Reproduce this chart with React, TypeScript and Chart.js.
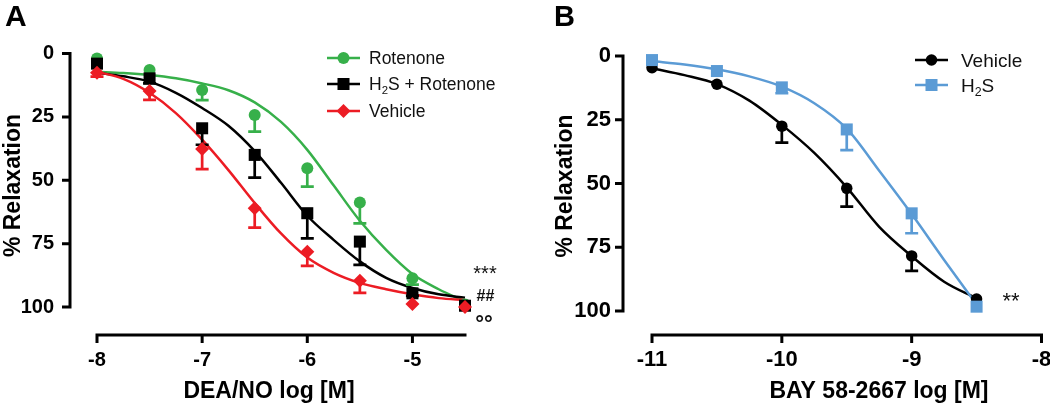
import React, { useEffect, useRef } from 'react';
import { Chart, registerables } from 'chart.js';

Chart.register(...registerables);

const FAMILY = "'Liberation Sans', Arial, Helvetica, sans-serif";

// ---------------- Panel A data (DEA/NO) ----------------
const doseA = [-8, -7.5, -7, -6.5, -6, -5.5, -5, -4.5];
const rotenoneMean = [2, 6.5, 14.4, 24.3, 45.3, 58.8, 88.7, 99];
const rotenoneSem = [0, 0, 4, 6.5, 7.2, 8.2, 2.5, 0];
const h2sRotenoneMean = [4, 9.8, 29.5, 40, 63, 74.2, 94.6, 99.5];
const h2sRotenoneSem = [0, 2, 6.5, 9, 9.9, 9.2, 1, 0];
const vehicleAMean = [7.6, 14.8, 37.7, 61, 78.2, 89.6, 98.8, 100];
const vehicleASem = [1.5, 3.5, 7.9, 7.7, 5.6, 4.8, 0, 0];

const fitDoseA = [-8, -7.75, -7.5, -7.25, -7, -6.75, -6.5, -6.25, -6, -5.75, -5.5, -5.25, -5, -4.75, -4.5];
const rotenoneFit = [7.2, 7.7, 8.5, 9.8, 11.8, 14.5, 19.3, 27, 38, 52, 66, 77.5, 87, 93, 97.8];
const h2sRotenoneFit = [7.6, 9, 11.1, 15.5, 21.5, 28.5, 38.5, 51, 64, 73.5, 82, 88.5, 92.5, 95, 96.3];
const vehicleAFit = [7.2, 10, 15.5, 23.5, 34, 46, 59, 71, 80.5, 86.5, 90.5, 93, 95, 96.5, 97.3];

const xTicksA = [-8, -7, -6, -5];
const legendA = ['Rotenone', 'H₂S + Rotenone', 'Vehicle'];
const sigA = ['***', '##', '°°'];
const xTitleA = 'DEA/NO log [M]';

// ---------------- Panel B data (BAY 58-2667) ----------------
const doseB = [-11, -10.5, -10, -9.5, -9, -8.5];
const vehicleBMean = [4.6, 11.1, 27.5, 51.9, 78.4, 95.3];
const vehicleBSem = [0, 0, 6.5, 7.2, 5.9, 0];
const h2sMean = [1.6, 5.9, 12.3, 28.8, 61.7, 98.3];
const h2sSem = [0, 0, 2.3, 8.1, 7.8, 0];

const fitDoseB = [-11, -10.75, -10.5, -10.25, -10, -9.75, -9.5, -9.25, -9, -8.75, -8.5];
const vehicleBFit = [4.8, 7.5, 11, 17.5, 27, 38, 51.5, 67, 78.5, 88.5, 95];
const h2sFit = [2, 3.3, 5.2, 8, 12, 18.5, 28.5, 45, 62, 80, 97.5];

const xTicksB = [-11, -10, -9, -8];
const legendB = ['Vehicle', 'H₂S'];
const sigB = ['**'];
const xTitleB = 'BAY 58-2667 log [M]';

// ---------------- shared ----------------
const yTicks = [0, 25, 50, 75, 100];
const yTitle = '% Relaxation';

const GREEN = '#37b04a';
const BLACK = '#000000';
const RED = '#ec1c24';
const BLUE = '#5b9bd5';

type Series = {
  label: string; color: string; style: 'circle' | 'rect' | 'rectRot'; radius: number; z: number;
  dose: number[]; mean: number[]; sem: number[]; fitDose: number[]; fit: number[];
};

type Sig = { text: string; x: number; y: number; font: string };

type PanelCfg = {
  left: number; letter: string; letterX: number; letterFont: string;
  series: Series[]; xMin: number; xMax: number; xTicks: number[];
  area: { left: number; right: number; top: number; bottom: number };
  yAxisX: number; xAxisY: number; tickLen: number;
  tickFontY: number; tickFontX: number; yTickPad: number; xTickPad: number;
  xTitle: string; xTitleX: number; yTitleX: number; yTitleY: number;
  legend: { x0: number; x1: number; tx: number; rows: number[]; size: number };
  sigs: Sig[];
};

const W = 525;
const H = 404;

const panelA: PanelCfg = {
  left: 0, letter: 'A', letterX: 5, letterFont: `bold 30px ${FAMILY}`,
  series: [
    { label: legendA[0], color: GREEN, style: 'circle', radius: 6, z: 2, dose: doseA, mean: rotenoneMean, sem: rotenoneSem, fitDose: fitDoseA, fit: rotenoneFit },
    { label: legendA[1], color: BLACK, style: 'rect', radius: 8.5, z: 1, dose: doseA, mean: h2sRotenoneMean, sem: h2sRotenoneSem, fitDose: fitDoseA, fit: h2sRotenoneFit },
    { label: legendA[2], color: RED, style: 'rectRot', radius: 7, z: 0, dose: doseA, mean: vehicleAMean, sem: vehicleASem, fitDose: fitDoseA, fit: vehicleAFit },
  ],
  xMin: -8, xMax: -4.5, xTicks: xTicksA,
  area: { left: 97, right: 465, top: 53.5, bottom: 307 },
  yAxisX: 70, xAxisY: 335, tickLen: 8,
  tickFontY: 20, tickFontX: 20, yTickPad: 43, xTickPad: 41,
  xTitle: xTitleA, xTitleX: 269, yTitleX: 20, yTitleY: 185.5,
  legend: { x0: 327, x1: 360, tx: 369, rows: [58, 84, 111], size: 17.5 },
  sigs: [
    { text: sigA[0], x: 485, y: 279.5, font: `20px ${FAMILY}` },
    { text: sigA[1], x: 485.5, y: 300.5, font: `bold 16px ${FAMILY}` },
    { text: sigA[2], x: 484, y: 331, font: `bold 22px ${FAMILY}` },
  ],
};

const panelB: PanelCfg = {
  left: 525, letter: 'B', letterX: 29, letterFont: `bold 29px ${FAMILY}`,
  series: [
    { label: legendB[0], color: BLACK, style: 'circle', radius: 5.75, z: 1, dose: doseB, mean: vehicleBMean, sem: vehicleBSem, fitDose: fitDoseB, fit: vehicleBFit },
    { label: legendB[1], color: BLUE, style: 'rect', radius: 8.5, z: 0, dose: doseB, mean: h2sMean, sem: h2sSem, fitDose: fitDoseB, fit: h2sFit },
  ],
  xMin: -11, xMax: -8, xTicks: xTicksB,
  area: { left: 127, right: 520, top: 56, bottom: 311 },
  yAxisX: 98, xAxisY: 335, tickLen: 8,
  tickFontY: 22, tickFontX: 22, yTickPad: 41, xTickPad: 36,
  xTitle: xTitleB, xTitleX: 354, yTitleX: 47, yTitleY: 186,
  legend: { x0: 390, x1: 423, tx: 436, rows: [60, 85], size: 19 },
  sigs: [{ text: sigB[0], x: 486, y: 307.5, font: `22px ${FAMILY}` }],
};

function drawMarker(ctx: CanvasRenderingContext2D, style: string, r: number, x: number, y: number, color: string) {
  ctx.save();
  ctx.fillStyle = color;
  ctx.beginPath();
  if (style === 'circle') {
    ctx.arc(x, y, r, 0, Math.PI * 2);
  } else if (style === 'rect') {
    const s = Math.SQRT1_2 * r;
    ctx.rect(x - s, y - s, 2 * s, 2 * s);
  } else {
    ctx.moveTo(x - r, y);
    ctx.lineTo(x, y - r);
    ctx.lineTo(x + r, y);
    ctx.lineTo(x, y + r);
    ctx.closePath();
  }
  ctx.fill();
  ctx.restore();
}

// draws text, rendering "₂" as a lowered small 2
function drawRich(ctx: CanvasRenderingContext2D, text: string, x: number, baseline: number, size: number) {
  let cx = x;
  const parts = text.split('₂');
  parts.forEach((part, i) => {
    ctx.font = `${size}px ${FAMILY}`;
    ctx.fillText(part, cx, baseline);
    cx += ctx.measureText(part).width;
    if (i < parts.length - 1) {
      const small = size * 0.65;
      ctx.font = `${small}px ${FAMILY}`;
      ctx.fillText('2', cx, baseline + size * 0.22);
      cx += ctx.measureText('2').width;
    }
  });
}

function makePlugin(cfg: PanelCfg) {
  return {
    id: 'decor',
    beforeDatasetDraw(chart: any, args: any) {
      const ds: any = chart.data.datasets[args.index];
      if (!ds.sem) return;
      const xs = chart.scales.x;
      const ys = chart.scales.y;
      const ctx: CanvasRenderingContext2D = chart.ctx;
      ctx.save();
      ctx.strokeStyle = ds.borderColor;
      ctx.lineWidth = 2.7;
      ds.data.forEach((pt: any, i: number) => {
        const e = ds.sem[i];
        if (!e) return;
        const px = xs.getPixelForValue(pt.x);
        const y0 = ys.getPixelForValue(pt.y);
        const y1 = ys.getPixelForValue(pt.y + e);
        ctx.beginPath();
        ctx.moveTo(px, y0);
        ctx.lineTo(px, y1);
        ctx.moveTo(px - 6.5, y1);
        ctx.lineTo(px + 6.5, y1);
        ctx.stroke();
      });
      ctx.restore();
    },
    afterDraw(chart: any) {
      const ctx: CanvasRenderingContext2D = chart.ctx;
      const xs = chart.scales.x;
      const ys = chart.scales.y;
      ctx.save();
      // axes
      ctx.strokeStyle = '#000';
      ctx.lineWidth = 3;
      ctx.lineCap = 'butt';
      const yTop = ys.getPixelForValue(yTicks[0]);
      const yBot = ys.getPixelForValue(yTicks[yTicks.length - 1]);
      ctx.beginPath();
      ctx.moveTo(cfg.yAxisX, yTop - 1.5);
      ctx.lineTo(cfg.yAxisX, yBot + 1.5);
      yTicks.forEach((v) => {
        const py = ys.getPixelForValue(v);
        ctx.moveTo(cfg.yAxisX - cfg.tickLen, py);
        ctx.lineTo(cfg.yAxisX, py);
      });
      const xL = xs.getPixelForValue(cfg.xMin);
      const xR = xs.getPixelForValue(cfg.xMax);
      ctx.moveTo(xL - 1.5, cfg.xAxisY);
      ctx.lineTo(xR + 1.5, cfg.xAxisY);
      cfg.xTicks.forEach((v) => {
        const px = xs.getPixelForValue(v);
        ctx.moveTo(px, cfg.xAxisY);
        ctx.lineTo(px, cfg.xAxisY + cfg.tickLen);
      });
      ctx.stroke();

      ctx.fillStyle = '#000';
      // panel letter
      ctx.font = cfg.letterFont;
      ctx.textAlign = 'left';
      ctx.textBaseline = 'alphabetic';
      ctx.fillText(cfg.letter, cfg.letterX, 26);

      // axis titles
      ctx.font = `bold 23px ${FAMILY}`;
      ctx.textAlign = 'center';
      ctx.fillText(cfg.xTitle, cfg.xTitleX, 398);
      ctx.save();
      ctx.translate(cfg.yTitleX, cfg.yTitleY);
      ctx.rotate(-Math.PI / 2);
      ctx.fillText(yTitle, 0, 0);
      ctx.restore();

      // legend
      const lg = cfg.legend;
      cfg.series.forEach((s, i) => {
        const y = lg.rows[i];
        ctx.strokeStyle = s.color;
        ctx.lineWidth = 2.5;
        ctx.beginPath();
        ctx.moveTo(lg.x0, y);
        ctx.lineTo(lg.x1, y);
        ctx.stroke();
        drawMarker(ctx, s.style, s.radius, (lg.x0 + lg.x1) / 2, y, s.color);
        ctx.fillStyle = '#111';
        ctx.textAlign = 'left';
        drawRich(ctx, s.label, lg.tx, y + lg.size * 0.36, lg.size);
      });

      // significance marks
      ctx.fillStyle = '#111';
      ctx.textAlign = 'center';
      cfg.sigs.forEach((g) => {
        ctx.font = g.font;
        ctx.fillText(g.text, g.x, g.y);
      });
      ctx.restore();
    },
  };
}

function Panel({ cfg }: { cfg: PanelCfg }) {
  const ref = useRef<HTMLCanvasElement>(null);
  useEffect(() => {
    const datasets: any[] = [];
    cfg.series.forEach((s) => {
      datasets.push({
        label: s.label,
        data: s.dose.map((x, j) => ({ x, y: s.mean[j] })),
        sem: s.sem,
        showLine: false,
        pointStyle: s.style,
        pointRadius: s.radius,
        pointHoverRadius: s.radius,
        pointBackgroundColor: s.color,
        pointBorderColor: s.color,
        pointBorderWidth: 0,
        backgroundColor: s.color,
        borderColor: s.color,
        order: s.z,
        clip: false,
      });
      datasets.push({
        label: s.label + ' (fit)',
        data: s.fitDose.map((x, j) => ({ x, y: s.fit[j] })),
        showLine: true,
        pointRadius: 0,
        pointHoverRadius: 0,
        borderColor: s.color,
        backgroundColor: s.color,
        borderWidth: 2.5,
        cubicInterpolationMode: 'monotone',
        fill: false,
        order: 10 + s.z,
        clip: false,
      });
    });
    const a = cfg.area;
    const tickFont = (size: number) => ({ family: FAMILY, size, weight: 'bold' as const });
    const chart = new Chart(ref.current as HTMLCanvasElement, {
      type: 'scatter',
      data: { datasets },
      plugins: [makePlugin(cfg)],
      options: {
        responsive: false,
        animation: false,
        events: [],
        layout: { padding: { left: 0, top: a.top, right: W - a.right, bottom: 0 } },
        plugins: { legend: { display: false }, tooltip: { enabled: false }, title: { display: false } },
        scales: {
          x: {
            type: 'linear',
            position: 'bottom',
            min: cfg.xMin,
            max: cfg.xMax,
            grid: { display: false, drawTicks: false },
            border: { display: false },
            ticks: {
              font: tickFont(cfg.tickFontX),
              color: '#000',
              padding: cfg.xTickPad,
              maxRotation: 0,
              autoSkip: false,
              callback: (v: any) => String(v),
            },
            afterBuildTicks: (s: any) => {
              s.ticks = cfg.xTicks.map((v) => ({ value: v }));
            },
            afterFit: (s: any) => {
              s.height = H - a.bottom;
              s.paddingLeft = 0;
              s.paddingRight = 0;
            },
          },
          y: {
            type: 'linear',
            position: 'left',
            reverse: true,
            min: 0,
            max: 100,
            grid: { display: false, drawTicks: false },
            border: { display: false },
            ticks: {
              font: tickFont(cfg.tickFontY),
              color: '#000',
              padding: cfg.yTickPad,
              autoSkip: false,
              callback: (v: any) => String(v),
            },
            afterBuildTicks: (s: any) => {
              s.ticks = yTicks.map((v) => ({ value: v }));
            },
            afterFit: (s: any) => {
              s.width = a.left;
              s.paddingTop = 0;
              s.paddingBottom = 0;
            },
          },
        },
      } as any,
    });
    return () => chart.destroy();
  }, [cfg]);
  return (
    <canvas
      ref={ref}
      width={W}
      height={H}
      style={{ position: 'absolute', left: cfg.left, top: 0, width: W, height: H, display: 'block' }}
    />
  );
}

export default function App() {
  return (
    <div style={{ position: 'absolute', left: 0, top: 0, width: 1050, height: 404, background: '#fff', overflow: 'hidden' }}>
      <Panel cfg={panelA} />
      <Panel cfg={panelB} />
    </div>
  );
}
